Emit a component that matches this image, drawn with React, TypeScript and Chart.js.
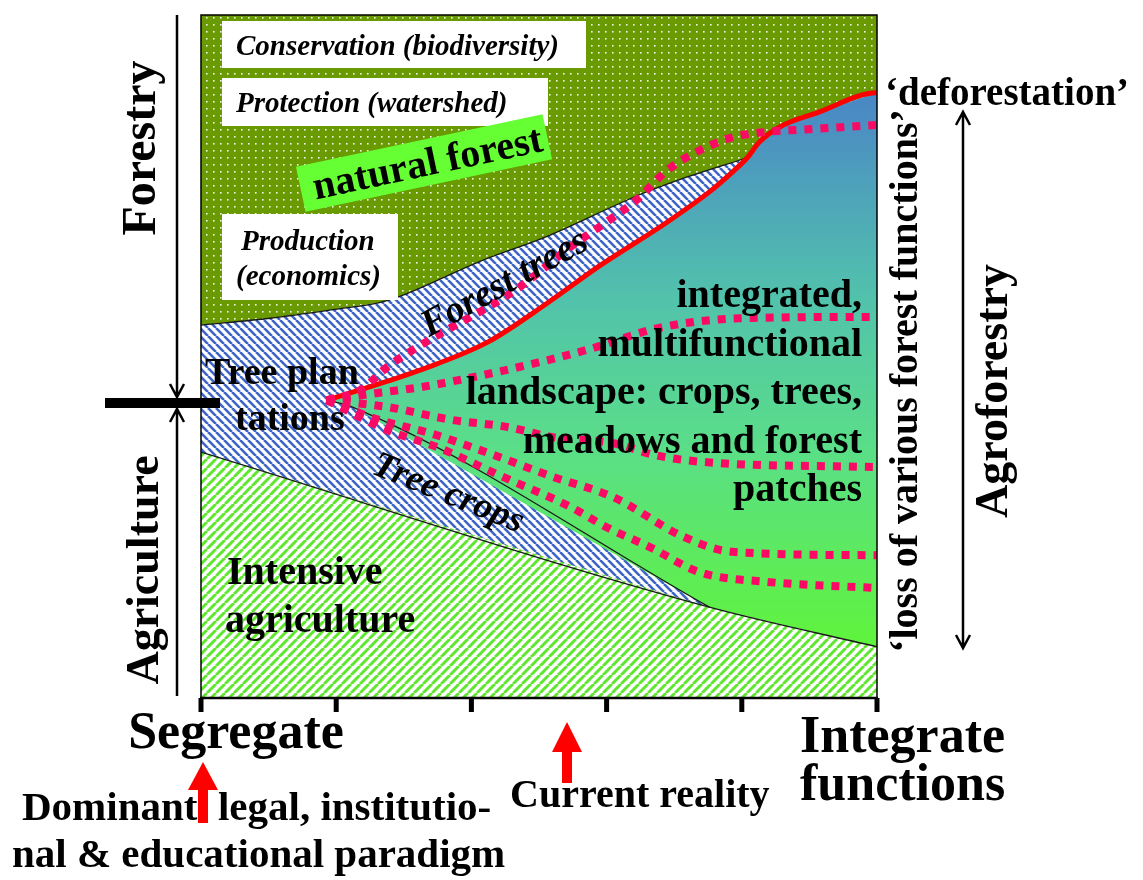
import { useEffect, useRef } from "react";
import { Chart, registerables } from "chart.js";

Chart.register(...registerables);

const SERIF = '"Liberation Serif", "Times New Roman", Times, serif';

// x: 0 = "Segregate" … 5 = "Integrate functions"; y: 0 = bottom, 100 = top
const xTicks = [0, 1, 2, 3, 4, 5];

// lower edge of natural forest (top of "Forest trees" band)
const forestEdgeX = [0, 0.51, 0.99, 1.32, 1.47, 2.06, 2.56, 3.05, 3.22, 3.54, 4.04];
const forestEdgeY = [54.6, 55.6, 56.9, 57.9, 58.8, 63.9, 67.6, 72.0, 73.5, 75.9, 79.1];

// red 'deforestation' line
const deforestX = [0.93, 1.38, 1.62, 2.12, 2.56, 2.95, 3.45, 3.76, 3.93, 4.04, 4.13, 4.28, 4.56, 5.0, 5.1];
const deforestY = [43.6, 46.4, 48.0, 52.1, 57.8, 63.3, 69.7, 74.1, 77.0, 79.1, 81.4, 83.6, 85.7, 88.6, 88.0];

// upper edge of "Tree crops" band
const cropEdgeX = [0.93, 1.12, 3.76];
const cropEdgeY = [43.6, 42.6, 13.3];

// upper edge of intensive agriculture
const agriEdgeX = [0, 3.76, 5.0];
const agriEdgeY = [36.0, 13.3, 7.5];

// dotted 'loss of various forest functions' trajectories
const lossAX = [0.93, 1.18, 1.38, 1.57, 1.82, 2.12, 2.36, 2.73, 3.0, 3.22, 3.45, 3.69, 3.93, 4.19, 4.43, 5.0];
const lossAY = [43.6, 45.1, 48.5, 51.0, 53.9, 57.2, 60.2, 66.0, 69.7, 72.9, 77.3, 80.2, 82.1, 82.9, 83.2, 83.9];
const lossBX = [0.93, 1.32, 1.62, 1.92, 2.36, 2.86, 3.39, 3.99, 5.0];
const lossBY = [43.6, 44.7, 45.5, 46.6, 48.5, 51.0, 54.2, 55.6, 55.8];
const lossCX = [0.93, 1.38, 1.86, 2.26, 2.6, 3.05, 3.35, 3.69, 5.0];
const lossCY = [43.6, 42.6, 40.7, 39.7, 38.2, 37.3, 35.6, 34.6, 33.8];
const lossDX = [0.93, 1.32, 1.69, 2.12, 2.6, 3.05, 3.57, 3.93, 5.0];
const lossDY = [43.6, 40.7, 38.8, 35.9, 32.4, 29.4, 23.6, 21.4, 20.9];
const lossEX = [0.93, 1.38, 1.75, 2.23, 2.73, 3.0, 3.32, 3.69, 4.19, 5.0];
const lossEY = [43.6, 39.2, 36.7, 32.4, 28.0, 25.0, 22.1, 18.4, 17.0, 16.1];

type P = { x: number; y: number };
const pts = (xs: number[], ys: number[]): P[] => xs.map((x, i) => ({ x, y: ys[i] }));

function dotPattern(ctx: CanvasRenderingContext2D) {
  const c = document.createElement("canvas");
  c.width = 7;
  c.height = 7;
  const g = c.getContext("2d")!;
  g.fillStyle = "#6a9a02";
  g.fillRect(0, 0, 7, 7);
  g.fillStyle = "rgba(255,255,255,0.9)";
  g.fillRect(3, 3, 1.6, 1.6);
  return ctx.createPattern(c, "repeat")!;
}

function hatchPattern(ctx: CanvasRenderingContext2D, color: string, size: number, width: number, back: boolean) {
  const c = document.createElement("canvas");
  c.width = size;
  c.height = size;
  const g = c.getContext("2d")!;
  g.fillStyle = "#ffffff";
  g.fillRect(0, 0, size, size);
  g.strokeStyle = color;
  g.lineWidth = width;
  g.beginPath();
  for (let k = -1; k <= 1; k++) {
    if (back) {
      g.moveTo(k * size, 0);
      g.lineTo(k * size + size, size);
    } else {
      g.moveTo(k * size, size);
      g.lineTo(k * size + size, 0);
    }
  }
  g.stroke();
  return ctx.createPattern(c, "repeat")!;
}

function txt(
  ctx: CanvasRenderingContext2D,
  s: string,
  x: number,
  y: number,
  font: string,
  align: CanvasTextAlign = "left",
  baseline: CanvasTextBaseline = "alphabetic",
  rot = 0,
  color = "#000"
) {
  ctx.save();
  ctx.translate(x, y);
  if (rot) ctx.rotate((rot * Math.PI) / 180);
  ctx.font = font;
  ctx.fillStyle = color;
  ctx.textAlign = align;
  ctx.textBaseline = baseline;
  ctx.fillText(s, 0, 0);
  ctx.restore();
}

function vArrow(ctx: CanvasRenderingContext2D, x: number, y1: number, y2: number, headTop: boolean, headBottom: boolean) {
  ctx.save();
  ctx.strokeStyle = "#000";
  ctx.lineWidth = 2.5;
  ctx.beginPath();
  ctx.moveTo(x, y1);
  ctx.lineTo(x, y2);
  if (headTop) {
    ctx.moveTo(x - 7, y1 + 13);
    ctx.lineTo(x, y1);
    ctx.lineTo(x + 7, y1 + 13);
  }
  if (headBottom) {
    ctx.moveTo(x - 7, y2 - 13);
    ctx.lineTo(x, y2);
    ctx.lineTo(x + 7, y2 - 13);
  }
  ctx.stroke();
  ctx.restore();
}

function redArrow(ctx: CanvasRenderingContext2D, x: number, tip: number, base: number, bottom: number) {
  ctx.save();
  ctx.fillStyle = "#ff0000";
  ctx.fillRect(x - 5, base - 1, 10, bottom - base + 1);
  ctx.beginPath();
  ctx.moveTo(x - 15, base);
  ctx.lineTo(x, tip);
  ctx.lineTo(x + 15, base);
  ctx.closePath();
  ctx.fill();
  ctx.restore();
}

const overlay = {
  id: "overlay",
  afterDraw(chart: any) {
    const ctx: CanvasRenderingContext2D = chart.ctx;
    const { left, right, top, bottom } = chart.chartArea;
    const xs = chart.scales.x;
    const B = (n: number) => `bold ${n}px ${SERIF}`;
    const BI = (n: number) => `italic bold ${n}px ${SERIF}`;

    // white boxes in the forest
    ctx.save();
    ctx.fillStyle = "#ffffff";
    ctx.fillRect(222, 21, 364, 47);
    ctx.fillRect(222, 78, 326, 48);
    ctx.fillRect(222, 214, 176, 86);
    ctx.restore();
    txt(ctx, "Conservation (biodiversity)", 236, 55, BI(29));
    txt(ctx, "Protection (watershed)", 236, 112, BI(29));
    txt(ctx, "Production", 241, 250, BI(29));
    txt(ctx, "(economics)", 236, 285, BI(29));

    // natural forest label box
    ctx.save();
    ctx.translate(424, 163);
    ctx.rotate((-12 * Math.PI) / 180);
    ctx.fillStyle = "#66ff33";
    ctx.fillRect(-126, -23, 252, 46);
    ctx.restore();
    txt(ctx, "natural forest", 428, 165, B(40), "center", "middle", -12);

    txt(ctx, "Forest trees", 505, 284, BI(38), "center", "middle", -29);
    txt(ctx, "Tree crops", 448, 494, BI(37), "center", "middle", 22);
    txt(ctx, "Tree plan", 205, 384, B(38));
    txt(ctx, "tations", 235, 430, B(38));
    txt(ctx, "Intensive", 227, 584, B(40));
    txt(ctx, "agriculture", 225, 632, B(40));

    const lines = ["integrated,", "multifunctional", "landscape: crops, trees,", "meadows and forest", "patches"];
    lines.forEach((l, i) => txt(ctx, l, 862, 307 + i * 48.5, B(40), "right"));

    // frame
    ctx.save();
    ctx.strokeStyle = "#000";
    ctx.lineWidth = 1.5;
    ctx.strokeRect(left, top, right - left, bottom - top);
    ctx.lineWidth = 2.5;
    ctx.beginPath();
    ctx.moveTo(left - 1, bottom);
    ctx.lineTo(right + 1, bottom);
    ctx.stroke();
    ctx.fillStyle = "#000";
    xTicks.forEach((t) => {
      const px = xs.getPixelForValue(t);
      ctx.fillRect(px - 2.5, bottom, 5, 14);
    });
    ctx.restore();

    // left side
    vArrow(ctx, 177, top, 397, false, true);
    vArrow(ctx, 177, 409, bottom - 2, true, false);
    ctx.fillStyle = "#000";
    ctx.fillRect(105, 398, 115, 10);
    txt(ctx, "Forestry", 143, 148, B(48), "center", "middle", -90);
    txt(ctx, "Agriculture", 146, 570, B(46), "center", "middle", -90);

    // right side
    txt(ctx, "\u2018deforestation\u2019", 885, 105, B(39));
    txt(ctx, "\u2018loss of various forest functions\u2019", 907, 381, B(40), "center", "middle", -90);
    vArrow(ctx, 963, 112, 648, true, true);
    txt(ctx, "Agroforestry", 995, 391, B(46), "center", "middle", -90);

    // bottom
    txt(ctx, "Segregate", 236, 748, B(52), "center");
    txt(ctx, "Integrate", 800, 752, B(52));
    txt(ctx, "functions", 800, 800, B(52));
    txt(ctx, "Current reality", 510, 807, B(40));
    txt(ctx, "Dominant  legal, institutio-", 22, 820, B(41));
    txt(ctx, "nal & educational paradigm", 12, 867, B(41));
    redArrow(ctx, 203, 762, 790, 823);
    redArrow(ctx, 567, 722, 752, 783);
  },
};

export default function App() {
  const ref = useRef<HTMLCanvasElement | null>(null);

  useEffect(() => {
    const canvas = ref.current!;
    const c2d = canvas.getContext("2d")!;
    const forestFill = dotPattern(c2d);
    const treeFill = hatchPattern(c2d, "#3e66c6", 8, 2.6, true);
    const agriFill = hatchPattern(c2d, "#5fe62e", 9, 3, false);

    const forestEdge = pts(forestEdgeX, forestEdgeY);
    const red = pts(deforestX, deforestY);
    const redIn = red.filter((p) => p.x <= 5);
    const crop = pts(cropEdgeX, cropEdgeY);
    const agri = pts(agriEdgeX, agriEdgeY);

    const forestShape: P[] = [
      { x: -0.2, y: -5 },
      { x: 5.2, y: -5 },
      { x: 5.2, y: 105 },
      { x: -0.2, y: 105 },
    ];
    const treeShape: P[] = [
      ...forestEdge,
      ...redIn.filter((p) => p.x > forestEdgeX[forestEdgeX.length - 1]),
      { x: 5.2, y: deforestY[deforestY.length - 2] },
      { x: 5.2, y: agriEdgeY[agriEdgeY.length - 1] },
      ...agri.slice().reverse(),
      { x: -0.2, y: agriEdgeY[0] },
      { x: -0.2, y: forestEdgeY[0] },
    ];
    const agriShape: P[] = [
      { x: -0.2, y: agriEdgeY[0] },
      ...agri,
      { x: 5.2, y: agriEdgeY[agriEdgeY.length - 1] },
      { x: 5.2, y: -5 },
      { x: -0.2, y: -5 },
    ];
    const tealShape: P[] = [
      ...redIn,
      { x: 5.2, y: deforestY[deforestY.length - 2] },
      { x: 5.2, y: agriEdgeY[agriEdgeY.length - 1] },
      ...agri.filter((p) => p.x >= cropEdgeX[cropEdgeX.length - 1]).reverse(),
      ...crop.slice().reverse(),
    ];

    const area = (data: P[], bg: any, order: number) => ({
      data,
      fill: "shape",
      backgroundColor: bg,
      borderWidth: 0,
      borderColor: "rgba(0,0,0,0)",
      pointRadius: 0,
      tension: 0,
      order,
    });
    const edge = (data: P[], order: number) => ({
      data,
      fill: false,
      borderColor: "#1a1a1a",
      borderWidth: 1.3,
      pointRadius: 0,
      tension: 0.3,
      cubicInterpolationMode: "monotone",
      order,
    });
    const dotted = (data: P[]) => ({
      data,
      fill: false,
      borderColor: "#fa0a64",
      borderWidth: 8,
      borderDash: [8, 8],
      borderCapStyle: "butt",
      pointRadius: 0,
      cubicInterpolationMode: "monotone",
      order: 1,
    });

    const tealGradient = (context: any) => {
      const chart = context.chart;
      if (!chart.chartArea) return "#55c8a0";
      const y = chart.scales.y;
      const g = chart.ctx.createLinearGradient(
        0,
        y.getPixelForValue(deforestY[deforestY.length - 2]),
        0,
        y.getPixelForValue(agriEdgeY[agriEdgeY.length - 1])
      );
      g.addColorStop(0, "#4a86c6");
      g.addColorStop(0.37, "#52c2ac");
      g.addColorStop(0.64, "#5ade88");
      g.addColorStop(1, "#5ff43c");
      return g;
    };

    const chart = new Chart(canvas, {
      type: "line",
      data: {
        datasets: [
          area(forestShape, forestFill, 20),
          area(treeShape, treeFill, 19),
          area(agriShape, agriFill, 18),
          area(tealShape, tealGradient, 17),
          edge(forestEdge, 10),
          edge(agri, 10),
          edge(crop, 10),
          {
            data: red,
            fill: false,
            borderColor: "#ff0000",
            borderWidth: 5,
            pointRadius: 0,
            cubicInterpolationMode: "monotone",
            clip: { left: 0, top: 0, right: 20, bottom: 0 },
            order: 5,
          },
          dotted(pts(lossAX, lossAY)),
          dotted(pts(lossBX, lossBY)),
          dotted(pts(lossCX, lossCY)),
          dotted(pts(lossDX, lossDY)),
          dotted(pts(lossEX, lossEY)),
        ] as any,
      },
      options: {
        responsive: false,
        devicePixelRatio: 1,
        animation: false,
        layout: { padding: { left: 201, right: 266, top: 15, bottom: 182 } },
        scales: {
          x: { type: "linear", min: 0, max: 5, display: false },
          y: { type: "linear", min: 0, max: 100, display: false },
        },
        plugins: {
          legend: { display: false },
          tooltip: { enabled: false },
        },
      },
      plugins: [overlay],
    });
    return () => chart.destroy();
  }, []);

  return (
    <div style={{ position: "fixed", left: 0, top: 0, width: 1143, height: 880, background: "#fff" }}>
      <canvas ref={ref} width={1143} height={880} style={{ width: 1143, height: 880, display: "block" }} />
    </div>
  );
}
